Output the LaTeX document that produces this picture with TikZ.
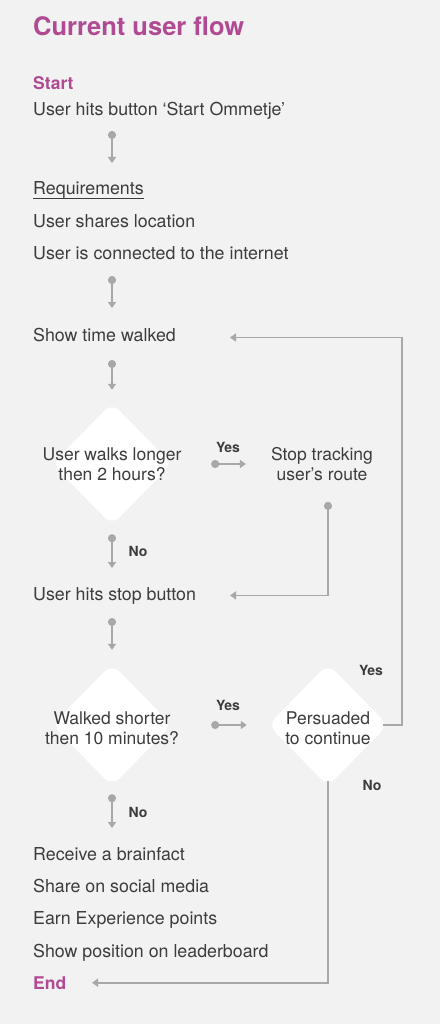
\documentclass[tikz,border=0pt]{standalone}
\usepackage{fontspec}
\setmainfont{TeX Gyre Heros}
\usetikzlibrary{arrows.meta,shapes.geometric,calc}
\definecolor{pagegray}{HTML}{F2F2F2}
\definecolor{inkgray}{HTML}{3C3C3C}
\definecolor{linegray}{HTML}{A8A8A8}
\definecolor{flowpurple}{HTML}{B04A92}

\begin{document}
\begin{tikzpicture}[x=1pt,y=1pt,
	txt/.style={anchor=base west, inner sep=0pt, text=inkgray, font=\fontsize{17.8}{20}\selectfont},
	head/.style={txt, text=flowpurple, font=\fontsize{17.5}{20}\selectfont\bfseries},
	dia/.style={diamond, fill=white, rounded corners=10pt, minimum width=120pt, minimum height=122pt, inner sep=0pt},
	dtxt/.style={align=center, inner sep=0pt, text=inkgray, font=\fontsize{17.5}{20}\selectfont},
	lbl/.style={anchor=base, inner sep=0pt, text=inkgray, font=\fontsize{14}{16}\selectfont\bfseries},
	flow/.style={draw=linegray, line width=1.6pt, {Circle[length=8pt]}-{Triangle[length=6pt,width=8pt]}},
	back/.style={draw=linegray, line width=1.6pt, -{Triangle[length=6pt,width=8pt]}}]
	\fill[pagegray] (0,0) rectangle (440,-1024);

	\node[txt, text=flowpurple, font=\fontsize{25.5}{30}\selectfont\bfseries] (title) at (33,-36) {Current user flow};
	\node[head] (start) at (33,-90) {Start};
	\node[txt] (hits) at (33,-116) {User hits button ‘Start Ommetje’};
	\node[txt] (req) at (33,-195) {Requirements};
	\node[txt] (share) at (33,-227) {User shares location};
	\node[txt] (conn) at (33,-259) {User is connected to the internet};
	\node[txt] (show) at (33,-341) {Show time walked};
	\node[dia] (d1) at (112,-464) {};
	\node[dtxt] (q1) at (d1) {User walks longer\\then 2 hours?};
	\node[dtxt] (track) at (322,-464) {Stop tracking\\user’s route};
	\node[txt] (stopb) at (33,-600) {User hits stop button};
	\node[dia] (d2) at (112,-725) {};
	\node[dtxt] (q2) at ($(d2)+(0,-3)$) {Walked shorter\\then 10 minutes?};
	\node[dia] (d3) at (328,-725) {};
	\node[dtxt] (q3) at ($(d3)+(0,-3)$) {Persuaded\\to continue};
	\node[txt] (brain) at (33,-860) {Receive a brainfact};
	\node[txt] (social) at (33,-892) {Share on social media};
	\node[txt] (xp) at (33,-924) {Earn Experience points};
	\node[txt] (board) at (33,-957) {Show position on leaderboard};
	\node[head] (finish) at (33,-989) {End};

	\node[lbl] (yes1) at (228,-452) {Yes};
	\node[lbl] (no1) at (138,-556) {No};
	\node[lbl] (yes2) at (228,-710) {Yes};
	\node[lbl] (yes3) at (371,-675) {Yes};
	\node[lbl] (no3) at (372,-790) {No};
	\node[lbl] (no2) at (138,-817) {No};

	\draw[inkgray, line width=0.9pt] ($(req.base west)+(0,-3)$) -- ($(req.base east)+(0,-3)$);

	\draw[flow] ($(hits.base -| d1)+(0,-15)$) -- ($(req.base -| d1)+(0,32)$);
	\draw[flow] ($(conn.base -| d1)+(0,-17)$) -- ($(show.base -| d1)+(0,33)$);
	\draw[flow] ($(show.base -| d1)+(0,-19)$) -- ($(d1.north)+(0,13)$);
	\draw[flow] ($(d1.south)+(0,-9)$) -- ($(stopb.base -| d1)+(0,32)$);
	\draw[flow] ($(stopb.base -| d2)+(0,-18)$) -- ($(d2.north)+(0,14)$);
	\draw[flow] ($(d2.south)+(0,-8)$) -- ($(brain.base -| d2)+(0,32)$);
	\draw[flow] ($(d1.east)+(39,0)$) -- ($(track.west |- d1)+(-25,0)$);
	\draw[flow] ($(d2.east)+(39,0)$) -- ($(d3.west)+(-21,0)$);
	\draw[flow] ($(track.south -| d3)+(0,-21)$) |- ($(stopb.west)+(197,0)$);
	\draw[back] ($(d3.east)+(-5,0)$) -- ++(19,0) |- ($(show.west)+(197,-3)$);
	\draw[back] ($(d3.south)+(0,5)$) |- ($(finish.west)+(59,0)$);
\end{tikzpicture}
\end{document}
